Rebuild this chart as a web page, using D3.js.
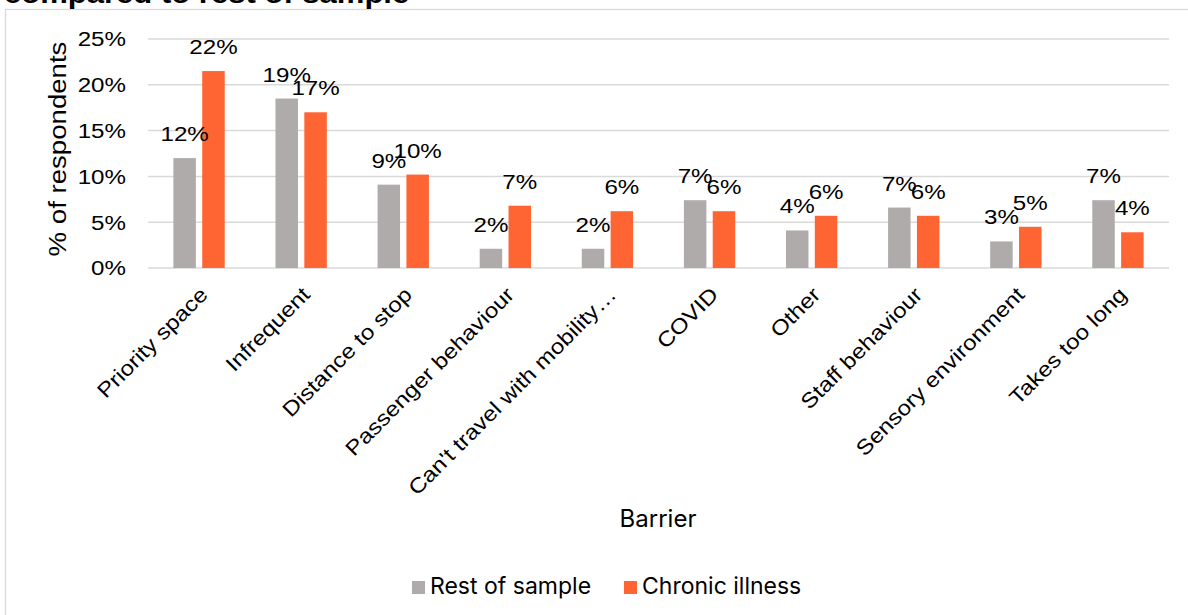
<!DOCTYPE html>
<html>
<head>
<meta charset="utf-8">
<script src="https://cdn.jsdelivr.net/npm/d3@7"></script>
<style>
  body { margin: 0; background: #fff; }
  text { font-family: "Liberation Sans", Arial, sans-serif; fill: #000; }
</style>
</head>
<body>
<div id="chart"></div>
<script>
const width = 1188, height = 615;

const categories = ["Priority space", "Infrequent", "Distance to stop", "Passenger behaviour",
  "Can't travel with mobility…", "COVID", "Other", "Staff behaviour", "Sensory environment", "Takes too long"];
const restOfSample = [12.0, 18.5, 9.1, 2.1, 2.1, 7.4, 4.1, 6.6, 2.9, 7.4];
const chronicIllness = [21.5, 17.0, 10.2, 6.8, 6.2, 6.2, 5.7, 5.7, 4.5, 3.9];
const seriesNames = ["Rest of sample", "Chronic illness"];
const colors = ["#AFABAB", "#FF6433"];
const yTicks = [0, 5, 10, 15, 20, 25];

const margin = {left: 148, right: 19, top: 39, bottom: 347};
const sx = 1.15; // the chart's font runs a bit wider than Liberation Sans

const svg = d3.select("#chart")
  .append("svg")
  .attr("width", width)
  .attr("height", height);

// outer chart frame
svg.append("rect")
  .attr("x", 5.5).attr("y", 9.5)
  .attr("width", 1200).attr("height", 620)
  .attr("fill", "none")
  .attr("stroke", "#d9d9d9")
  .attr("stroke-width", 1.3);

svg.append("text")
  .attr("transform", `translate(4, 3) scale(${sx},1)`)
  .style("font-weight", "bold")
  .style("font-size", "27px")
  .text("compared to rest of sample");

const x = d3.scaleBand()
  .domain(categories)
  .range([margin.left, width - margin.right]);

const x1 = d3.scaleBand()
  .domain(seriesNames)
  .range([0, x.bandwidth()])
  .paddingInner(0.22)
  .paddingOuter(0.88);

const y = d3.scaleLinear()
  .domain([0, 25])
  .range([height - margin.bottom, margin.top]);

// gridlines
svg.append("g")
  .selectAll("line")
  .data(yTicks)
  .join("line")
  .attr("x1", margin.left)
  .attr("x2", width - margin.right)
  .attr("y1", d => y(d))
  .attr("y2", d => y(d))
  .attr("stroke", "#d9d9d9")
  .attr("stroke-width", 1.5);

// y axis labels
svg.append("g")
  .selectAll("text")
  .data(yTicks)
  .join("text")
  .attr("transform", d => `translate(126, ${y(d)}) scale(${sx},1)`)
  .attr("dy", "0.35em")
  .attr("text-anchor", "end")
  .style("font-size", "21px")
  .text(d => d + "%");

svg.append("text")
  .attr("transform", `translate(66, 149) rotate(-90) scale(${sx},1)`)
  .attr("text-anchor", "middle")
  .style("font-size", "24px")
  .text("% of respondents");

const rows = categories.map((c, i) => ({cat: c, vals: [restOfSample[i], chronicIllness[i]]}));

const groups = svg.append("g")
  .selectAll("g")
  .data(rows)
  .join("g")
  .attr("transform", d => `translate(${x(d.cat)},0)`);

groups.selectAll("rect")
  .data(d => d.vals.map((v, j) => ({v, s: seriesNames[j], j})))
  .join("rect")
  .attr("x", d => x1(d.s))
  .attr("width", x1.bandwidth())
  .attr("y", d => y(d.v))
  .attr("height", d => y(0) - y(d.v))
  .attr("fill", d => colors[d.j]);

groups.selectAll("text.label")
  .data(d => d.vals.map((v, j) => ({v, s: seriesNames[j]})))
  .join("text")
  .attr("class", "label")
  .attr("transform", d => `translate(${x1(d.s) + x1.bandwidth() / 2}, ${y(d.v) - 17}) scale(${sx},1)`)
  .attr("text-anchor", "middle")
  .style("font-size", "21px")
  .text(d => Math.round(d.v) + "%");

// category labels
svg.append("g")
  .selectAll("text")
  .data(categories)
  .join("text")
  .attr("transform", d => `translate(${x(d) + x.bandwidth() / 2 + 10}, 296) rotate(-45) scale(${sx},1)`)
  .attr("text-anchor", "end")
  .style("font-size", "21px")
  .text(d => d);

svg.append("text")
  .attr("x", 658).attr("y", 527)
  .attr("text-anchor", "middle")
  .style("font-family", "Inter, 'Noto Sans', sans-serif")
  .style("font-size", "24px")
  .text("Barrier");

// legend
const legend = svg.append("g")
  .selectAll("g")
  .data(seriesNames)
  .join("g")
  .attr("transform", (d, i) => `translate(${[412, 624][i]}, 594)`);

legend.append("rect")
  .attr("x", 0).attr("y", -13)
  .attr("width", 13).attr("height", 13)
  .attr("fill", (d, i) => colors[i]);

legend.append("text")
  .attr("x", 18).attr("y", 0)
  .style("font-family", "Inter, 'Noto Sans', sans-serif")
  .style("font-size", "23px")
  .text(d => d);
</script>
</body>
</html>
